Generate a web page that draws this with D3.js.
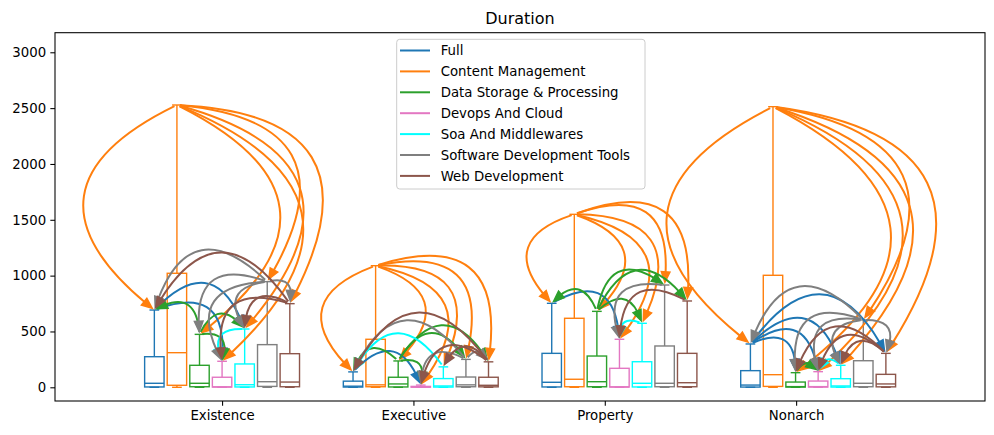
<!DOCTYPE html>
<html><head><meta charset="utf-8">
<script src="https://cdn.jsdelivr.net/npm/d3@7"></script>
<style>body{margin:0;background:#fff} text{font-family:"DejaVu Sans",sans-serif;fill:#000}</style>
</head><body><svg id="c" width="994" height="435"></svg>
<script>
const categories = ["Existence", "Executive", "Property", "Nonarch"];
const seriesNames = ["Full", "Content Management", "Data Storage & Processing", "Devops And Cloud",
  "Soa And Middlewares", "Software Development Tools", "Web Development"];
const seriesColors = ["#1f77b4", "#ff7f0e", "#2ca02c", "#e377c2", "#00ffff", "#7f7f7f", "#8c564b"];
const yTicks = [0, 500, 1000, 1500, 2000, 2500, 3000];

// per series (rows) x per category (columns)
const whiskerLow = [
  [0, 0, 0, 0], [0, 0, 0, 0], [0, 0, 0, 0], [0, 0, 0, 0],
  [0, 0, 0, 0], [0, 0, 0, 0], [0, 0, 0, 0]];
const q1 = [
  [3, 2, 3, 2], [18, 5, 5, 8], [5, 3, 5, 2], [2, 1, 2, 2],
  [3, 2, 3, 2], [8, 5, 5, 5], [5, 4, 5, 4]];
const median = [
  [36, 10, 45, 20], [310, 22, 72, 113], [36, 30, 50, 6], [4, 2, 4, 6],
  [23, 12, 36, 12], [50, 22, 36, 36], [47, 18, 41, 30]];
const q3 = [
  [274, 55, 304, 149], [1021, 430, 618, 1003], [197, 90, 280, 47], [90, 8, 170, 56],
  [209, 78, 229, 77], [382, 92, 370, 238], [301, 90, 304, 116]];
const whiskerHigh = [
  [692, 138, 752, 388], [2528, 1089, 1549, 2513], [474, 236, 680, 131], [233, 20, 430, 140],
  [522, 183, 573, 197], [946, 250, 916, 603], [749, 228, 773, 304]];

// arrows: [source series, target series] per category
const arrowsExistence = [[1,0],[1,2],[1,3],[1,4],[1,5],[1,6],[0,3],[0,4],[2,0],[2,3],[2,4],[4,3],
  [5,0],[5,2],[5,3],[5,4],[5,6],[6,0],[6,3],[6,4]];
const arrowsExecutive = [[1,0],[1,2],[1,3],[1,4],[1,5],[1,6],[0,3],[2,0],[2,3],[2,5],[2,6],[4,0],
  [5,0],[5,3],[5,6],[6,0],[6,3],[6,4]];
const arrowsProperty = [[1,0],[1,2],[1,3],[1,4],[1,5],[1,6],[0,3],[2,0],[2,4],[2,5],[2,6],[4,3],
  [5,3],[6,3]];
const arrowsNonarch = [[1,0],[1,2],[1,3],[1,4],[1,5],[1,6],[0,2],[0,3],[0,4],[0,6],[2,3],[4,3],
  [5,0],[5,2],[5,3],[5,4],[5,6],[6,2],[6,3],[6,4]];
const arrowSets = [arrowsExistence, arrowsExecutive, arrowsProperty, arrowsNonarch];

const svg = d3.select("#c");
const L = 55, R = 985, T = 32.7, B = 401;
const x = d3.scaleLinear().domain([-7.40, 33.79]).range([L, R]);
const y = d3.scaleLinear().domain([-122.7, 3175.4]).range([B, T]);
const groupStep = 8.8, tickStep = 8.475, boxW = 0.86;
const boxCenter = (g, s) => g * groupStep + (s - 3);

// title
svg.append("text").attr("x", (L + R) / 2).attr("y", 23.5).attr("text-anchor", "middle")
  .style("font-size", "16px").text("Duration");

// axes
const yAxis = d3.axisLeft(y).tickValues(yTicks).tickSize(4.67).tickPadding(4.2).tickFormat(d3.format("d"));
const gy = svg.append("g").attr("transform", `translate(${L},0)`).call(yAxis);
const xAxis = d3.axisBottom(x).tickValues(categories.map((c, i) => i * tickStep))
  .tickFormat((d, i) => categories[i]).tickSize(4.67).tickPadding(4.67);
const gx = svg.append("g").attr("transform", `translate(0,${B})`).call(xAxis);
[gx, gy].forEach(g => {
  g.select(".domain").remove();
  g.selectAll("text").style("font-size", "13.3px").style("font-family", "DejaVu Sans");
  g.selectAll("line").attr("stroke", "#000").attr("stroke-width", 1.07);
});

// boxes
const boxes = svg.append("g");
categories.forEach((cat, g) => {
  seriesNames.forEach((name, s) => {
    const cx = x(boxCenter(g, s));
    const x0 = x(boxCenter(g, s) - boxW / 2), x1 = x(boxCenter(g, s) + boxW / 2);
    const cw = (x1 - x0) / 4;
    const col = seriesColors[s];
    const bg = boxes.append("g").attr("stroke", col).attr("stroke-width", 1.4).attr("fill", "none");
    bg.append("rect").attr("x", x0).attr("y", y(q3[s][g])).attr("width", x1 - x0)
      .attr("height", y(q1[s][g]) - y(q3[s][g]));
    bg.append("line").attr("x1", x0).attr("x2", x1).attr("y1", y(median[s][g])).attr("y2", y(median[s][g]));
    bg.append("line").attr("x1", cx).attr("x2", cx).attr("y1", y(q3[s][g])).attr("y2", y(whiskerHigh[s][g]));
    bg.append("line").attr("x1", cx).attr("x2", cx).attr("y1", y(q1[s][g])).attr("y2", y(whiskerLow[s][g]));
    bg.append("line").attr("x1", cx - cw).attr("x2", cx + cw).attr("y1", y(whiskerHigh[s][g])).attr("y2", y(whiskerHigh[s][g]));
    bg.append("line").attr("x1", cx - cw).attr("x2", cx + cw).attr("y1", y(whiskerLow[s][g])).attr("y2", y(whiskerLow[s][g]));
  });
});

// arrows (arc3-style quadratic curves)
const rad = 0.8, shrink = 2.7, headLen = 10.5, headHalf = 4.3;
const arrowsG = svg.append("g");
function bez(P0, C, P2, t) {
  const a = (1 - t) * (1 - t), b = 2 * (1 - t) * t, c = t * t;
  return [a * P0[0] + b * C[0] + c * P2[0], a * P0[1] + b * C[1] + c * P2[1]];
}
const dist = (p, q) => Math.hypot(p[0] - q[0], p[1] - q[1]);
arrowSets.forEach((set, g) => {
  set.forEach(([s, t]) => {
    const P0 = [x(boxCenter(g, s)), y(whiskerHigh[s][g])];
    const P2 = [x(boxCenter(g, t)), y(whiskerHigh[t][g])];
    const dx = P2[0] - P0[0], dy = P2[1] - P0[1];
    const sg = Math.sign(dx) || 1;
    const C = [(P0[0] + P2[0]) / 2 + rad * sg * dy, (P0[1] + P2[1]) / 2 - rad * Math.abs(dx)];
    let tA = 0; while (tA < 0.5 && dist(bez(P0, C, P2, tA), P0) < shrink) tA += 0.001;
    let tTip = 1; while (tTip > 0.5 && dist(bez(P0, C, P2, tTip), P2) < shrink) tTip -= 0.001;
    let tB = tTip; const tip = bez(P0, C, P2, tTip);
    while (tB > 0.05 && dist(bez(P0, C, P2, tB), tip) < headLen) tB -= 0.001;
    let tL = tTip; while (tL > 0.05 && dist(bez(P0, C, P2, tL), tip) < headLen - 2) tL -= 0.001;
    const sA = bez(P0, C, P2, tA), sL = bez(P0, C, P2, tL);
    const k = (u, v) => [
      P0[0] * (1 - u) * (1 - v) + C[0] * ((1 - u) * v + u * (1 - v)) + P2[0] * u * v,
      P0[1] * (1 - u) * (1 - v) + C[1] * ((1 - u) * v + u * (1 - v)) + P2[1] * u * v];
    const Cs = k(tA, tL);
    const col = seriesColors[s];
    arrowsG.append("path")
      .attr("d", `M${sA[0]},${sA[1]} Q${Cs[0]},${Cs[1]} ${sL[0]},${sL[1]}`)
      .attr("fill", "none").attr("stroke", col).attr("stroke-width", 2);
    const base = bez(P0, C, P2, tB);
    const ux = (tip[0] - base[0]) / dist(tip, base), uy = (tip[1] - base[1]) / dist(tip, base);
    const bx = tip[0] - ux * headLen, by = tip[1] - uy * headLen;
    arrowsG.append("path")
      .attr("d", `M${tip[0]},${tip[1]} L${bx - uy * headHalf},${by + ux * headHalf} L${bx + uy * headHalf},${by - ux * headHalf} Z`)
      .attr("fill", col).attr("stroke", col).attr("stroke-width", 1.5).attr("stroke-linejoin", "miter");
  });
});

// frame
svg.append("rect").attr("x", L).attr("y", T).attr("width", R - L).attr("height", B - T)
  .attr("fill", "none").attr("stroke", "#000").attr("stroke-width", 1.07);

// legend
const lg = svg.append("g");
lg.append("rect").attr("x", 396.7).attr("y", 39.3).attr("width", 248.3).attr("height", 149.7)
  .attr("rx", 3).attr("fill", "#fff").attr("fill-opacity", 0.8)
  .attr("stroke", "#cccccc").attr("stroke-width", 1);
seriesNames.forEach((name, i) => {
  const ry = 50.5 + i * 20.9;
  lg.append("line").attr("x1", 400).attr("x2", 430).attr("y1", ry).attr("y2", ry)
    .attr("stroke", seriesColors[i]).attr("stroke-width", 2);
  lg.append("text").attr("x", 440.7).attr("y", ry).attr("dy", "0.36em")
    .style("font-size", "13.3px").text(name);
});
</script></body></html>
